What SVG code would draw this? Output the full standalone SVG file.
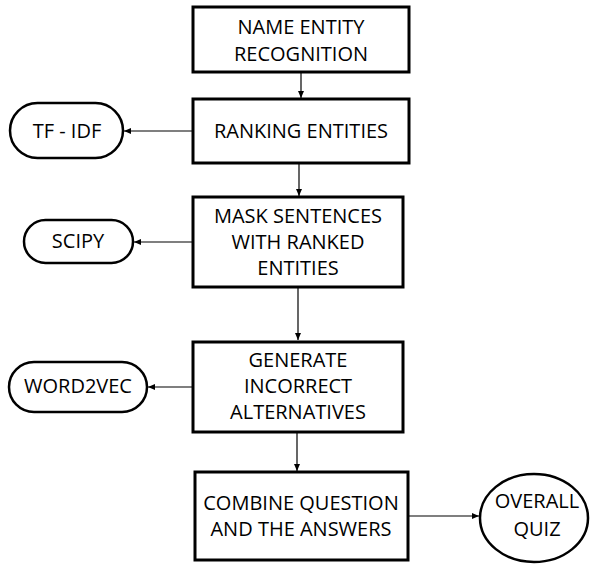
<svg xmlns="http://www.w3.org/2000/svg" width="595" height="566" viewBox="0 0 595 566">
<style>
.box{fill:#fff;stroke:#000;stroke-width:3}
.pill{fill:#fff;stroke:#000;stroke-width:2.5}
.t{font-family:"Open Sans","DejaVu Sans",sans-serif;font-size:20px;fill:#000;text-anchor:middle}
.c{stroke:#000;stroke-width:1.2;fill:none;marker-end:url(#ah)}
</style>
<defs>
<marker id="ah" markerWidth="8" markerHeight="8" refX="7" refY="4" orient="auto" markerUnits="userSpaceOnUse">
<path d="M0,1 L7,4 L0,7 Z" fill="#000"/>
</marker>
</defs>
<rect width="595" height="566" fill="#fff"/>
<g id="connectors">
<line class="c" x1="301" y1="72" x2="301" y2="98"/>
<line class="c" x1="193" y1="131" x2="124" y2="131"/>
<line class="c" x1="299" y1="163" x2="299" y2="196"/>
<line class="c" x1="193" y1="242" x2="134" y2="242"/>
<line class="c" x1="298" y1="287" x2="298" y2="340"/>
<line class="c" x1="193" y1="387" x2="148" y2="387"/>
<line class="c" x1="297" y1="432" x2="297" y2="471"/>
<line class="c" x1="408" y1="516" x2="479" y2="516"/>
</g>
<g id="n1"><rect class="box" x="193" y="7" width="216" height="65"/>
<text class="t" x="301" y="34">NAME ENTITY</text><text class="t" x="301" y="61">RECOGNITION</text></g>
<g id="n2"><rect class="box" x="193" y="99" width="216" height="64"/>
<text class="t" x="301" y="138">RANKING ENTITIES</text></g>
<g id="tfidf"><rect class="pill" x="10" y="103" width="113" height="55" rx="27.5"/>
<text class="t" x="67" y="138">TF - IDF</text></g>
<g id="n3"><rect class="box" x="193" y="197" width="210" height="90"/>
<text class="t" x="298" y="223">MASK SENTENCES</text><text class="t" x="298" y="249">WITH RANKED</text><text class="t" x="298" y="275">ENTITIES</text></g>
<g id="scipy"><rect class="pill" x="24" y="220" width="109" height="43" rx="21.5"/>
<text class="t" x="78" y="248">SCIPY</text></g>
<g id="n4"><rect class="box" x="193" y="342" width="210" height="90"/>
<text class="t" x="298" y="367">GENERATE</text><text class="t" x="298" y="393">INCORRECT</text><text class="t" x="298" y="419">ALTERNATIVES</text></g>
<g id="w2v"><rect class="pill" x="9" y="362" width="138" height="50" rx="25"/>
<text class="t" x="78" y="393">WORD2VEC</text></g>
<g id="n5"><rect class="box" x="195" y="472" width="213" height="88"/>
<text class="t" x="301" y="510">COMBINE QUESTION</text><text class="t" x="301" y="536">AND THE ANSWERS</text></g>
<g id="quiz"><ellipse class="pill" cx="534" cy="518" rx="54" ry="44"/>
<text class="t" x="537" y="508">OVERALL</text><text class="t" x="537" y="536">QUIZ</text></g>
</svg>
